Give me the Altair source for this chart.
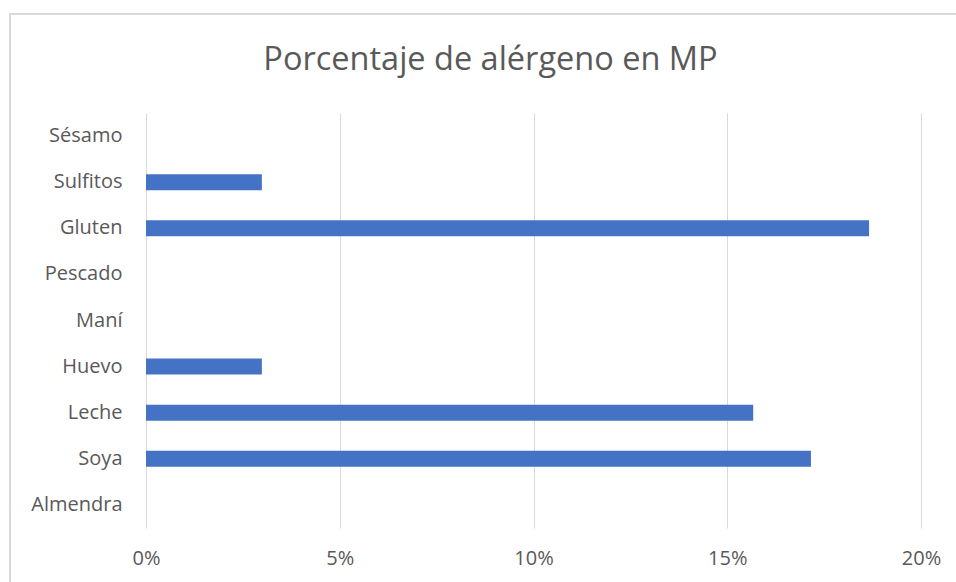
import altair as alt
import pandas as pd

categories = ["Sésamo", "Sulfitos", "Gluten", "Pescado", "Maní", "Huevo", "Leche", "Soya", "Almendra"]
values = [0.0, 0.0299, 0.1866, 0.0, 0.0, 0.0299, 0.1567, 0.1716, 0.0]
x_ticks = [0, 0.05, 0.10, 0.15, 0.20]

df = pd.DataFrame({"cat": categories, "val": values})

W, H = 775, 415
FONT = "Open Sans"
GRAY = "#595959"

bars = alt.Chart(df).mark_bar(color="#4472C4").encode(
    y=alt.Y("cat:N", sort=categories, title=None,
            scale=alt.Scale(paddingInner=0.653, paddingOuter=0.3265),
            axis=alt.Axis(labelFont=FONT, labelFontSize=20, labelColor=GRAY,
                          ticks=False, domain=False, grid=False, labelPadding=24)),
    x=alt.X("val:Q", title=None,
            scale=alt.Scale(domain=[0, 0.2], nice=False),
            axis=alt.Axis(values=x_ticks, format=".0%", labelFont=FONT, labelFontSize=20,
                          labelColor=GRAY, ticks=False, domain=False, grid=True,
                          labelFlush=False,
                          gridColor="#d9d9d9", gridWidth=1, labelPadding=20)),
)

frame = alt.Chart(df).mark_rect(fill=None, stroke="#d9d9d9", strokeWidth=2, clip=False).encode(
    x=alt.value(-136), x2=alt.value(W + 60),
    y=alt.value(-99), y2=alt.value(H + 80),
)

chart = alt.layer(frame, bars).properties(
    width=W, height=H,
    title=alt.TitleParams("Porcentaje de alérgeno en MP", font=FONT, fontSize=32.5,
                          fontWeight="normal", color=GRAY, anchor="middle", frame="group",
                          baseline="alphabetic", offset=-89, dx=-43),
    autosize=alt.AutoSizeParams(type="none"),
    padding={"left": 146, "top": 113, "right": 35, "bottom": 54},
).configure(background="white").configure_view(stroke=None)

chart.save("out.html", embed_options={"renderer": "svg", "actions": False})
